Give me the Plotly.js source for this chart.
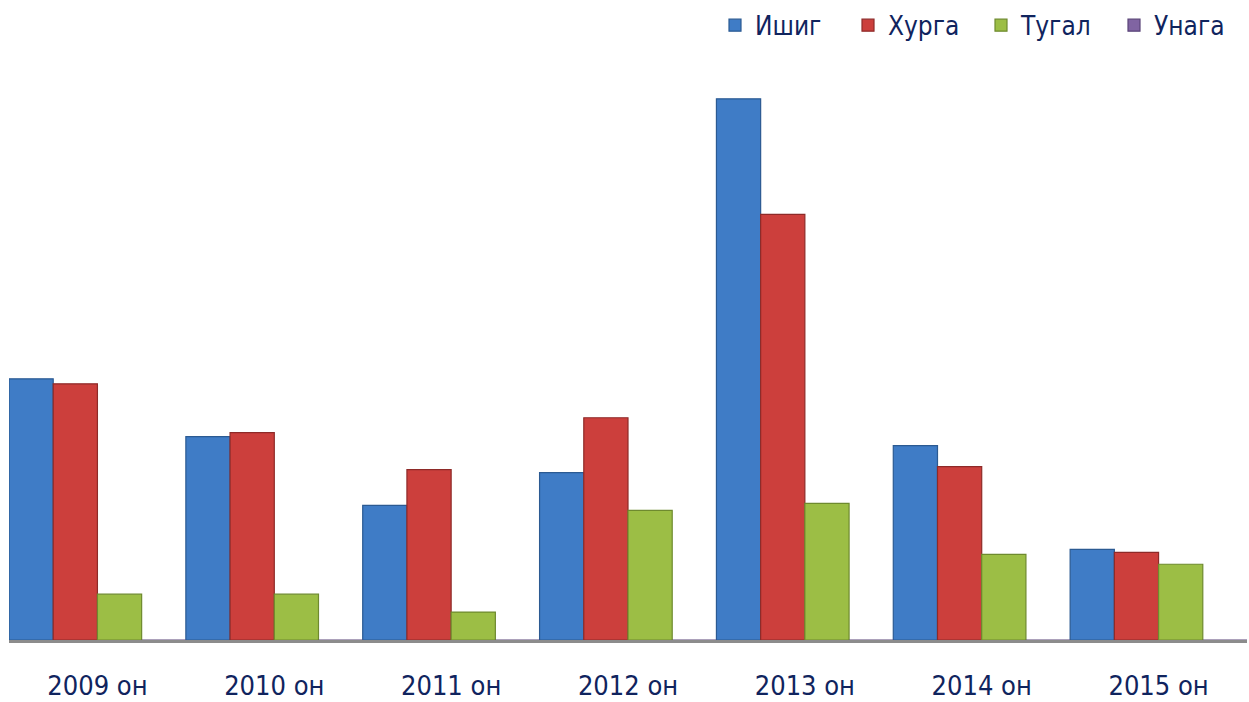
<!DOCTYPE html>
<html>
<head>
<meta charset="utf-8">
<script src="https://cdn.plot.ly/plotly-3.0.1.min.js"></script>
<style>html,body{margin:0;padding:0;background:#fff;}#chart{width:1249px;height:702px;}</style>
</head>
<body>
<div id="chart"></div>
<script>
const categories = ["2009 он", "2010 он", "2011 он", "2012 он", "2013 он", "2014 он", "2015 он"];
const seriesNames = ["Ишиг", "Хурга", "Тугал", "Унага"];
const ishig = [262, 204, 135, 168, 543, 195, 91];
const khurga = [257, 208, 171, 223, 427, 174, 88];
const tugal = [46, 46, 28, 130, 137, 86, 76];
const unaga = [0, 0, 0, 0, 0, 0, 0];

const fills = ["#3F7CC6", "#CC3F3C", "#9CBE45", "#8064A2"];
const edges = ["#2B5A92", "#8E2A28", "#6E8A2E", "#5A4478"];
const values = [ishig, khurga, tugal, unaga];

const traces = values.map((v, i) => ({
  type: "bar",
  name: seriesNames[i],
  x: categories,
  y: v,
  marker: {color: fills[i], line: {color: edges[i], width: 1.2}},
  hoverinfo: "x+y+name"
}));

const layout = {
  width: 1249, height: 702,
  margin: {l: 9, r: 2, t: 40, b: 62},
  paper_bgcolor: "#ffffff", plot_bgcolor: "#ffffff",
  barmode: "group", bargap: 0, bargroupgap: 0,
  showlegend: true,
  legend: {
    orientation: "h", x: 1.0, xanchor: "right", y: 1.028, yanchor: "middle",
    font: {family: "DejaVu Sans Condensed, DejaVu Sans", size: 26, color: "#10245E"},
    itemwidth: 30, tracegroupgap: 0,
    entrywidth: 88, entrywidthmode: "pixels"
  },
  xaxis: {
    type: "category", range: [-0.5, 6.5],
    showline: true, linecolor: "#8C8C8C", linewidth: 3,
    ticks: "outside", ticklen: 20, tickcolor: "rgba(0,0,0,0)",
    showgrid: false, zeroline: false,
    tickfont: {family: "DejaVu Sans Condensed, DejaVu Sans", size: 27, color: "#10245E"}
  },
  yaxis: {
    range: [0, 600], visible: false, showgrid: false, zeroline: false
  }
};

Plotly.newPlot("chart", traces, layout, {displayModeBar: false, staticPlot: true});
</script>
</body>
</html>
